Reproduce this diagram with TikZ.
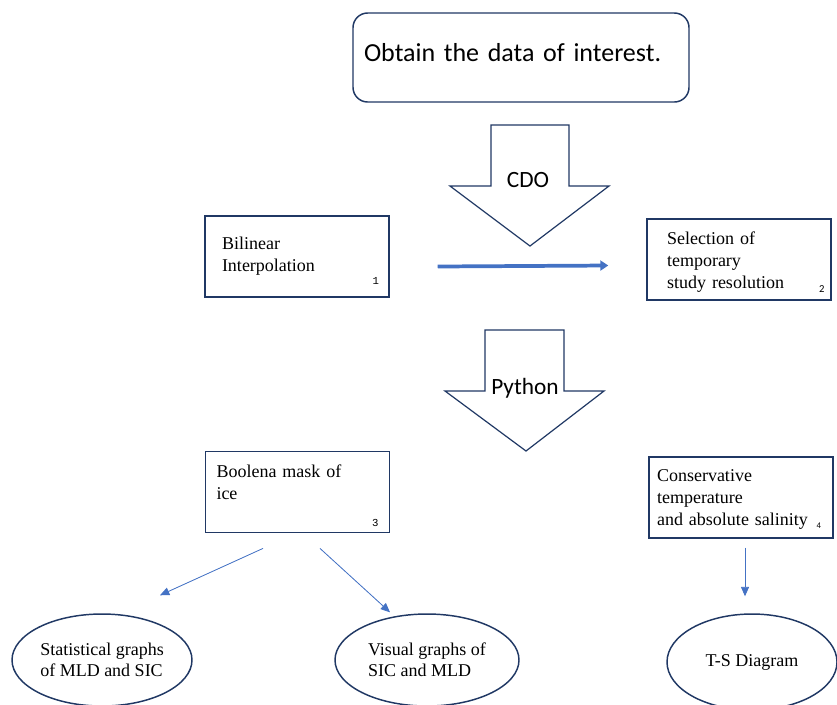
\documentclass[tikz,border=0pt]{standalone}
\usepackage{fontspec}
\setmainfont{Liberation Serif}
\newfontfamily\calibfont{Carlito}
\newfontfamily\numfont{Liberation Mono}
\usetikzlibrary{arrows.meta,positioning,calc,shapes.geometric}

\definecolor{boxline}{HTML}{203864}
\definecolor{arrowblue}{HTML}{4472C4}

\begin{document}
\begin{tikzpicture}[
  x=0.75pt, y=-0.75pt,
  stepbox/.style={draw=boxline, line width=1.1pt, minimum width=138pt, minimum height=61pt,
    align=left, font=\fontsize{13.5}{16.5}\selectfont},
  oval/.style={ellipse, draw=boxline, line width=1.1pt, inner sep=0pt, align=left,
    font=\fontsize{13.5}{15.5}\selectfont},
  num/.style={font=\fontsize{8}{9}\numfont, inner sep=0pt},
  numsf/.style={font=\fontsize{8}{9}\calibfont, inner sep=0pt},
  tool/.style={draw=boxline, line width=0.9pt},
  toollabel/.style={font=\fontsize{17.5}{20}\calibfont, inner sep=1pt},
  flow/.style={-{Triangle[length=7pt,width=6pt]}, draw=arrowblue, fill=arrowblue, line width=0.6pt},
  bigflow/.style={-{Triangle[length=6pt,width=7.5pt]}, draw=arrowblue, fill=arrowblue, line width=2.8pt}
]
\useasboundingbox (0,0) rectangle (837,704);

% source of the data
\node[draw=boxline, line width=1.1pt, rounded corners=11pt, minimum width=252pt,
  minimum height=66.75pt, inner xsep=8.25pt, text width=235.5pt, text depth=7pt,
  align=left, font=\fontsize{19.5}{22}\calibfont] (obtain) at (521,57.5)
  {Obtain the data of interest.};

% CDO step
\draw[tool] (491,125) -- (569,125) -- (569,186) -- (609,186) -- (530,246)
  -- (450,186) -- (491,186) -- cycle;
\node[toollabel] (cdo) at (528,180) {CDO};

\node[stepbox, inner xsep=12.75pt, text width=112.5pt] (bil) at (297,256.5)
  {Bilinear\\Interpolation};
\node[stepbox, inner xsep=15pt, text width=108pt, text depth=32pt] (sel) at (739,259.5)
  {Selection of\\temporary\\study resolution};
\node[num] (n1) at ($(bil.south east)+(-14,-17)$) {1};
\node[numsf] (n2) at ($(sel.south east)+(-10,-12)$) {2};

\coordinate (bs) at ($(bil.east)+(48,10)$);
\coordinate (be) at ($(sel.west)+(-38,6)$);
\draw[bigflow] (bs) -- (be);

% Python step
\draw[tool] (485,330) -- (564,330) -- (564,391) -- (604,391) -- (526,451)
  -- (445,391) -- (485,391) -- cycle;
\node[toollabel] (python) at (525,388) {Python};

\node[stepbox, inner xsep=8.25pt, text width=121.5pt, text depth=31pt] (bool) at (297.5,492)
  {Boolena mask of\\ice};
\node[stepbox, inner xsep=6pt, text width=126pt, text depth=33pt] (cons) at (741,497.5)
  {Conservative\\temperature\\and absolute salinity};
\node[num] (n3) at ($(bool.south east)+(-15,-10)$) {3};
\node[numsf, font=\fontsize{6.5}{7}\calibfont] (n4) at ($(cons.south east)+(-15,-13)$) {4};

% results
\node[oval, minimum width=135pt, minimum height=69pt] (stat) at (102,660)
  {Statistical graphs\\of MLD and SIC};
\node[oval, minimum width=138pt, minimum height=69pt] (vis) at (427,660)
  {Visual graphs of\\SIC and MLD};
\node[oval, minimum width=127.5pt, minimum height=72pt] (ts) at (752,662)
  {T-S Diagram};

\coordinate (m1) at ($(bool.south)+(-34.5,15)$);
\coordinate (m2) at ($(bool.south)+(22.5,15)$);
\coordinate (s1) at ($(stat.north)+(58,-18)$);
\coordinate (v1) at ($(vis.north)+(-37,-1)$);
\coordinate (c1) at ($(cons.south)+(4,9)$);
\coordinate (t1) at ($(ts.north)+(-7,-17)$);

\draw[flow] (m1) -- (s1);
\draw[flow] (m2) -- (v1);
\draw[flow] (c1) -- (t1);
\end{tikzpicture}
\end{document}
